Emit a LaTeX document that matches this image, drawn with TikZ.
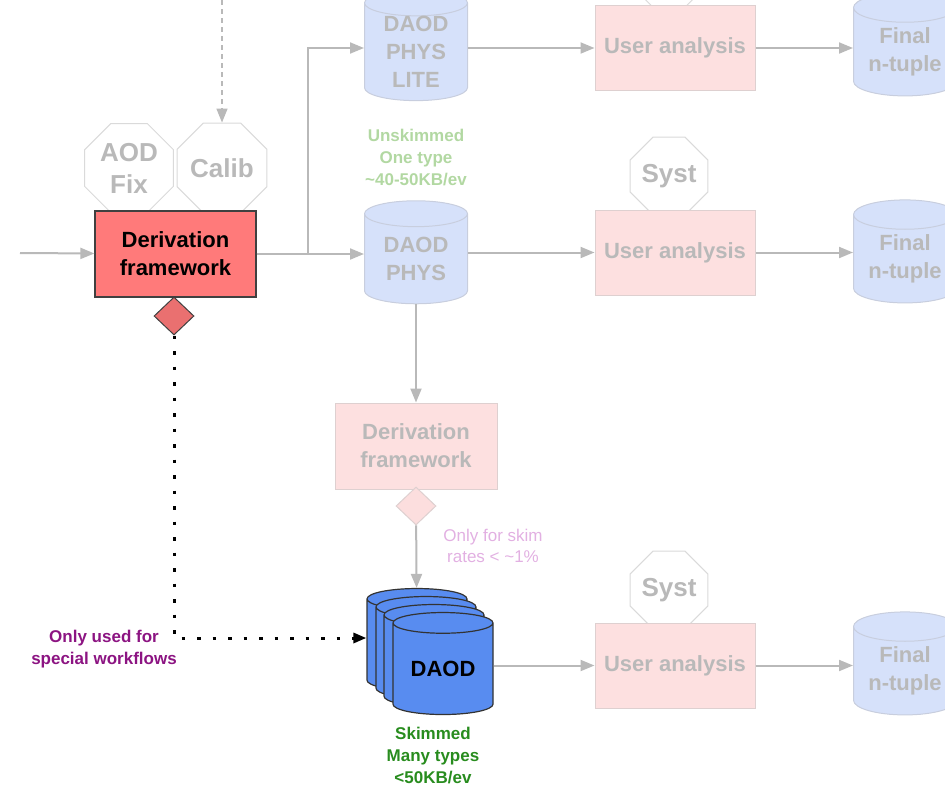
\documentclass[tikz,border=0pt]{standalone}
\usepackage{fontspec}
\setmainfont{Liberation Sans}
\usetikzlibrary{arrows.meta,shapes.geometric,positioning}

\definecolor{fadegray}{RGB}{185,185,185}
\definecolor{fadeline}{RGB}{218,218,218}
\definecolor{dbfill}{RGB}{214,225,250}
\definecolor{dbline}{RGB}{200,206,222}
\definecolor{boxfill}{RGB}{253,224,224}
\definecolor{boxline}{RGB}{222,208,208}
\definecolor{derivred}{RGB}{255,122,122}
\definecolor{diared}{RGB}{234,112,112}
\definecolor{diapink}{RGB}{252,222,222}
\definecolor{daodblue}{RGB}{88,140,240}
\definecolor{softgreen}{RGB}{178,216,162}
\definecolor{softpink}{RGB}{226,176,226}
\definecolor{wfpurple}{RGB}{140,20,130}
\definecolor{skimgreen}{RGB}{40,140,30}

\newcommand\octfont{\fontsize{26}{32}\selectfont\bfseries}
\newcommand\boxfont{\fontsize{22}{28}\selectfont\bfseries}
\newcommand\notefont{\fontsize{17}{22}\selectfont\bfseries}

\tikzset{
  flow/.style={draw=fadegray, line width=2pt, -{Triangle[length=14pt,width=11pt]}},
  fadebox/.style={rectangle, draw=boxline, fill=boxfill, line width=1pt,
    minimum width=160pt, minimum height=85pt, text=fadegray, font=\boxfont, align=center},
  fadedb/.style={cylinder, shape border rotate=90, aspect=0.4, draw=dbline, fill=dbfill,
    line width=1pt, minimum width=103pt, minimum height=103pt, inner sep=0pt,
    text=fadegray, font=\boxfont, align=center},
  daoddb/.style={cylinder, shape border rotate=90, aspect=0.32, draw=black!80, fill=daodblue,
    line width=1.2pt, minimum width=100pt, minimum height=102pt, inner sep=0pt,
    font=\boxfont, align=center},
  octo/.style={regular polygon, regular polygon sides=8, draw=fadeline, fill=white,
    line width=1pt, inner sep=0pt, text=fadegray, font=\octfont, align=center},
  gate/.style={diamond, minimum width=40pt, minimum height=38pt, inner sep=0pt}
}

\begin{document}
\begin{tikzpicture}[x=1pt,y=-1pt]
\useasboundingbox (0,0) rectangle (945,785);
\clip (0,0) rectangle (945,785);

% main derivation step
\node[octo, minimum size=96pt] (aodfix) at (129,168) {AOD\\Fix};
\node[octo, minimum size=96pt] (calib) at (222,168) {Calib};
\node[rectangle, draw=black!75, fill=derivred, line width=1.2pt, minimum width=161pt,
  minimum height=86pt, font=\boxfont, align=center] (deriv) at (175.5,254) {Derivation\\framework};
\node[gate, draw=black!75, fill=diared, line width=1pt] (gate1) at (174,316) {};

% unskimmed branch
\node[fadedb] (lite) at (416,52) {DAOD\\PHYS\\LITE};
\node[fadedb] (phys) at (416,259) {DAOD\\PHYS};
\node[text=softgreen, font=\notefont, align=center] (unskim) at (416,158) {Unskimmed\\One type\\\textasciitilde40-50KB/ev};

\node[octo, minimum size=80pt] (syst0) at (669,-29) {};
\node[fadebox] (ana0) at (675,48) {User analysis};
\node[fadedb] (ntup0) at (905,52) {Final\\n-tuple};

\node[octo, minimum size=80pt] (syst1) at (669,176) {Syst};
\node[fadebox] (ana1) at (675,252.5) {User analysis};
\node[fadedb] (ntup1) at (905,259) {Final\\n-tuple};

% skimmed branch
\node[fadebox, minimum width=162pt, minimum height=86pt] (deriv2) at (416,446) {Derivation\\framework};
\node[gate, draw=boxline, fill=diapink, line width=1pt] (gate2) at (416,506) {};
\node[text=softpink, font=\fontsize{17}{21}\selectfont, align=center] (skimnote) at (493,545.5) {Only for skim\\rates < \textasciitilde1\%};

\node[daoddb] (s1) at (417,645) {\phantom{DAOD}};
\node[daoddb] (s2) at (426,653) {\phantom{DAOD}};
\node[daoddb] (s3) at (434,661) {\phantom{DAOD}};
\node[daoddb] (s4) at (443,669) {DAOD};
\node[text=skimgreen, font=\notefont, align=center] (skim) at (433,755) {Skimmed\\Many types\\<50KB/ev};

\node[octo, minimum size=80pt] (syst2) at (669,590) {Syst};
\node[fadebox] (ana2) at (675,665.5) {User analysis};
\node[fadedb] (ntup2) at (905,671) {Final\\n-tuple};

\node[text=wfpurple, font=\notefont, align=center] (special) at (104,649) {Only used for\\special workflows};

% connectors
\coordinate (calibin) at (222,0);
\coordinate (rawin) at (20,253);
\draw[flow, dashed, dash pattern=on 5pt off 4pt, line width=1.5pt] (calibin) -- (calib);
\draw[flow] (rawin) -- (deriv);
\draw[draw=fadegray, line width=2pt] (deriv.east) -- ++(51,0) coordinate (split);
\draw[flow] (split) |- (lite.west |- ana0);
\draw[flow] (split) -- (split -| phys.west);
\draw[flow] (lite.east |- ana0) -- (ana0);
\draw[flow] (ana0) -- (ana0 -| ntup0.west);
\draw[flow] (phys.east |- ana1) -- (ana1);
\draw[flow] (ana1) -- (ana1 -| ntup1.west);
\draw[flow] (phys) -- (deriv2);
\draw[flow] (gate2) -- (s1);
\draw[flow] (s4.east |- ana2) -- (ana2);
\draw[flow] (ana2) -- (ana2 -| ntup2.west);
\draw[line width=3pt, dash pattern=on 3.5pt off 12pt, -{Triangle[length=13pt,width=10pt]}] (gate1.south) |- ([yshift=7pt]s1.west);
\end{tikzpicture}
\end{document}
